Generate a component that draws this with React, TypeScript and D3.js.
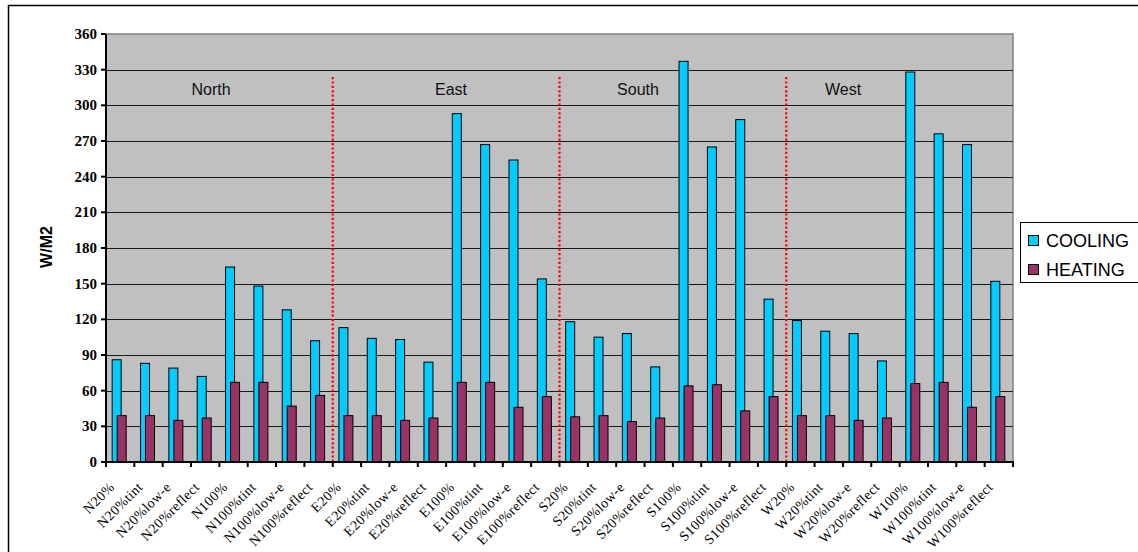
import React from "react";
import * as d3 from "d3";

const categories = [
  "N20%", "N20%tint", "N20%low-e", "N20%reflect", "N100%", "N100%tint", "N100%low-e", "N100%reflect",
  "E20%", "E20%tint", "E20%low-e", "E20%reflect", "E100%", "E100%tint", "E100%low-e", "E100%reflect",
  "S20%", "S20%tint", "S20%low-e", "S20%reflect", "S100%", "S100%tint", "S100%low-e", "S100%reflect",
  "W20%", "W20%tint", "W20%low-e", "W20%reflect", "W100%", "W100%tint", "W100%low-e", "W100%reflect",
];

const cooling = [
  86, 83, 79, 72, 164, 148, 128, 102,
  113, 104, 103, 84, 293, 267, 254, 154,
  118, 105, 108, 80, 337, 265, 288, 137,
  119, 110, 108, 85, 328, 276, 267, 152,
];

const heating = [
  39, 39, 35, 37, 67, 67, 47, 56,
  39, 39, 35, 37, 67, 67, 46, 55,
  38, 39, 34, 37, 64, 65, 43, 55,
  39, 39, 35, 37, 66, 67, 46, 55,
];

const regions = ["North", "East", "South", "West"];
const yTicks = [0, 30, 60, 90, 120, 150, 180, 210, 240, 270, 300, 330, 360];
const seriesNames = ["COOLING", "HEATING"];
const seriesColors = ["#00CCFF", "#993366"];

const W = 1138;
const H = 552;
const plot = { left: 106, right: 1013, top: 34, bottom: 462 };

export default function App() {
  const x = d3
    .scaleBand<string>()
    .domain(categories)
    .range([plot.left, plot.right])
    .paddingInner(0)
    .paddingOuter(0);
  const y = d3.scaleLinear().domain([0, 360]).range([plot.bottom, plot.top]);

  const bw = x.bandwidth();
  const barW = 9;
  const overlap = 4;
  const groupW = barW * 2 - overlap;
  const groupOffset = (bw - groupW) / 2 - 1;

  const perRegion = categories.length / regions.length;
  const dividerIdx = [1, 2, 3].map((r) => r * perRegion);
  const regionLabelX = [211, 451, 638, 843];

  const axisFont = "'Liberation Serif', 'Times New Roman', serif";
  const sansFont = "'Liberation Sans', Arial, sans-serif";

  return (
    <svg
      width={W}
      height={H}
      style={{ position: "absolute", left: 0, top: 0, background: "#fff" }}
    >
      {/* outer chart frame */}
      <rect x={8.5} y={5.5} width={W + 10} height={H + 10} fill="none" stroke="#000" strokeWidth={1.5} />

      {/* plot area */}
      <rect
        x={plot.left}
        y={plot.top}
        width={plot.right - plot.left}
        height={plot.bottom - plot.top}
        fill="#C0C0C0"
        stroke="#808080"
        strokeWidth={1.5}
      />

      {/* horizontal gridlines */}
      {yTicks.slice(1, -1).map((t) => (
        <line
          key={"g" + t}
          x1={plot.left}
          x2={plot.right}
          y1={Math.round(y(t)) + 0.5}
          y2={Math.round(y(t)) + 0.5}
          stroke="#1a1a1a"
          strokeWidth={1}
        />
      ))}

      {/* region labels */}
      {regions.map((r, i) => (
        <text
          key={r}
          x={regionLabelX[i]}
          y={95}
          textAnchor="middle"
          fontFamily={sansFont}
          fontSize={16}
          fill="#111"
        >
          {r}
        </text>
      ))}

      {/* region dividers */}
      {dividerIdx.map((idx) => {
        const xx = (x(categories[idx]) as number);
        return (
          <line
            key={"d" + idx}
            x1={xx}
            x2={xx}
            y1={77}
            y2={plot.bottom}
            stroke="#FF0000"
            strokeWidth={2.2}
            strokeDasharray="2.2,2.2"
          />
        );
      })}

      {/* bars */}
      {categories.map((c, i) => {
        const x0 = (x(c) as number) + groupOffset;
        return (
          <g key={c}>
            <rect
              x={x0}
              y={y(cooling[i])}
              width={barW}
              height={plot.bottom - y(cooling[i])}
              fill={seriesColors[0]}
              stroke="#000"
              strokeWidth={1}
            />
            <rect
              x={x0 + barW - overlap}
              y={y(heating[i])}
              width={barW}
              height={plot.bottom - y(heating[i])}
              fill={seriesColors[1]}
              stroke="#000"
              strokeWidth={1}
            />
          </g>
        );
      })}

      {/* y axis */}
      <line x1={plot.left} x2={plot.left} y1={plot.top} y2={plot.bottom + 1} stroke="#000" strokeWidth={2} />
      {yTicks.map((t) => (
        <g key={"y" + t}>
          <line x1={plot.left - 5} x2={plot.left} y1={y(t)} y2={y(t)} stroke="#000" strokeWidth={2} />
          <text
            x={plot.left - 9}
            y={y(t) + 5}
            textAnchor="end"
            fontFamily={axisFont}
            fontWeight="bold"
            fontSize={15}
            fill="#000"
          >
            {t}
          </text>
        </g>
      ))}

      {/* x axis */}
      <line x1={plot.left - 1} x2={plot.right + 1} y1={plot.bottom} y2={plot.bottom} stroke="#000" strokeWidth={2} />
      {[...categories.map((c) => x(c) as number), plot.right].map((xx, i) => (
        <line key={"xt" + i} x1={xx} x2={xx} y1={plot.bottom} y2={plot.bottom + 5} stroke="#000" strokeWidth={2} />
      ))}
      {categories.map((c) => {
        const cx = (x(c) as number) + bw / 2 - 5;
        const cy = plot.bottom + 26;
        return (
          <text
            key={"xl" + c}
            transform={`translate(${cx},${cy}) rotate(-45)`}
            textAnchor="end"
            fontFamily={axisFont}
            fontSize={14}
            letterSpacing={0.4}
            fill="#000"
          >
            {c}
          </text>
        );
      })}

      {/* y axis title */}
      <text
        transform={`translate(52,247) rotate(-90)`}
        textAnchor="middle"
        fontFamily={sansFont}
        fontWeight="bold"
        fontSize={16}
        fill="#000"
      >
        W/M2
      </text>

      {/* legend */}
      <rect x={1020.5} y={222.5} width={130} height={60} fill="#fff" stroke="#000" strokeWidth={1} />
      {seriesNames.map((s, i) => (
        <g key={s}>
          <rect
            x={1028.5}
            y={235.5 + i * 29}
            width={10}
            height={10}
            fill={seriesColors[i]}
            stroke="#000"
            strokeWidth={1}
          />
          <text
            x={1046}
            y={247 + i * 29}
            fontFamily={sansFont}
            fontSize={18}
            fill="#000"
          >
            {s}
          </text>
        </g>
      ))}
    </svg>
  );
}
